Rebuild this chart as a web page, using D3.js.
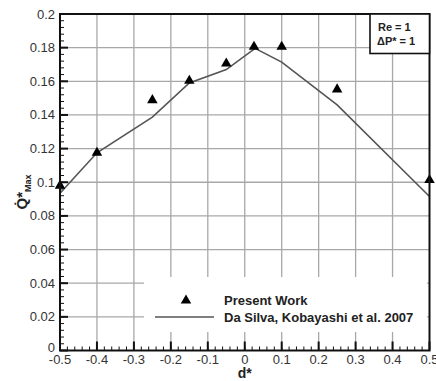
<!DOCTYPE html>
<html>
<head>
<meta charset="utf-8">
<script src="https://cdn.jsdelivr.net/npm/d3@7"></script>
<style>
  body { margin: 0; background: #fff; }
  svg { display: block; font-family: "Liberation Sans", Arial, sans-serif; }
</style>
</head>
<body>
<svg id="chart" width="436" height="381"></svg>
<script>
// Present work: maximum flow rate vs. position d*
const presentD = [-0.5, -0.4, -0.25, -0.15, -0.05, 0.025, 0.1, 0.25, 0.5];
const presentQ = [0.098, 0.1175, 0.1488, 0.1603, 0.1706, 0.1805, 0.1805, 0.1552, 0.1013];

// Reference curve (Da Silva, Kobayashi et al. 2007)
const refD = [-0.5, -0.4, -0.25, -0.15, -0.05, 0.028, 0.1, 0.25, 0.5];
const refQ = [0.0935, 0.1175, 0.1387, 0.1590, 0.1670, 0.1796, 0.1714, 0.1460, 0.0915];

const xTicks = [-0.5, -0.4, -0.3, -0.2, -0.1, 0, 0.1, 0.2, 0.3, 0.4, 0.5];
const yTicks = [0, 0.02, 0.04, 0.06, 0.08, 0.1, 0.12, 0.14, 0.16, 0.18, 0.2];

const svg = d3.select("#chart");
const pLeft = 60, pRight = 429.5, pTop = 14, pBottom = 350.5;

const x = d3.scaleLinear().domain([-0.5, 0.5]).range([pLeft, pRight]);
const y = d3.scaleLinear().domain([0, 0.2]).range([pBottom, pTop]);

// grid
const grid = svg.append("g").attr("stroke", "#a8a8a8").attr("stroke-width", 1.3);
grid.selectAll("line.v").data(xTicks.slice(1, -1)).join("line")
  .attr("x1", d => x(d)).attr("x2", d => x(d))
  .attr("y1", pTop).attr("y2", pBottom);
grid.selectAll("line.h").data(yTicks.slice(1, -1)).join("line")
  .attr("x1", pLeft).attr("x2", pRight)
  .attr("y1", d => y(d)).attr("y2", d => y(d));

// legend backdrop hides the grid behind it
svg.append("rect").attr("x", 144).attr("y", 277).attr("width", 283).attr("height", 55)
  .attr("fill", "#fff");

// minor & major ticks (inside the frame)
const tk = svg.append("g").attr("stroke", "#111");
tk.selectAll("line.xm").data(d3.range(-0.5, 0.5001, 0.02)).join("line")
  .attr("x1", d => x(d)).attr("x2", d => x(d))
  .attr("y1", pBottom).attr("y2", pBottom - 4).attr("stroke-width", 1);
tk.selectAll("line.xM").data(xTicks).join("line")
  .attr("x1", d => x(d)).attr("x2", d => x(d))
  .attr("y1", pBottom).attr("y2", pBottom - 9).attr("stroke-width", 2);
tk.selectAll("line.ym").data(d3.range(0, 0.2001, 0.004)).join("line")
  .attr("x1", pLeft).attr("x2", pLeft + 4)
  .attr("y1", d => y(d)).attr("y2", d => y(d)).attr("stroke-width", 1);
tk.selectAll("line.yM").data(yTicks).join("line")
  .attr("x1", pLeft).attr("x2", pLeft + 8)
  .attr("y1", d => y(d)).attr("y2", d => y(d)).attr("stroke-width", 2);

// reference curve
svg.append("path")
  .datum(refD.map((d, i) => [d, refQ[i]]))
  .attr("fill", "none").attr("stroke", "#555").attr("stroke-width", 1.6)
  .attr("d", d3.line().x(d => x(d[0])).y(d => y(d[1])));

// triangles for present work
const tri = d3.symbol().type(d3.symbolTriangle).size(48);
svg.selectAll("path.pt").data(presentD.map((d, i) => [d, presentQ[i]])).join("path")
  .attr("d", tri)
  .attr("transform", d => `translate(${x(d[0])},${y(d[1])})`)
  .attr("fill", "#000");

// frame
svg.append("rect").attr("x", pLeft).attr("y", pTop)
  .attr("width", pRight - pLeft).attr("height", pBottom - pTop)
  .attr("fill", "none").attr("stroke", "#111").attr("stroke-width", 2);

// tick labels
const fmt = d => (d === 0 ? "0" : String(+d.toFixed(2)));
svg.selectAll("text.xl").data(xTicks).join("text")
  .attr("x", d => x(d)).attr("y", 363.5)
  .attr("text-anchor", "middle").attr("font-size", 13).attr("fill", "#333")
  .text(fmt);
svg.selectAll("text.yl").data(yTicks).join("text")
  .attr("x", 55).attr("y", d => y(d) + (d === 0 ? 1 : 4.5))
  .attr("text-anchor", "end").attr("font-size", 13).attr("fill", "#333")
  .text(fmt);

// axis titles
svg.append("text").attr("x", x(0)).attr("y", 378)
  .attr("text-anchor", "middle").attr("font-size", 14).attr("font-weight", "bold")
  .attr("fill", "#222").text("d*");

const yt = svg.append("text")
  .attr("transform", "translate(27,192) rotate(-90)")
  .attr("text-anchor", "middle").attr("font-weight", "bold").attr("fill", "#222");
yt.append("tspan").attr("font-size", 15).text("Q\u0307*");
yt.append("tspan").attr("font-size", 9).attr("dy", 4).text("Max");

// info box
svg.append("rect").attr("x", 370).attr("y", 14).attr("width", 59.5).attr("height", 39.5)
  .attr("fill", "#fff").attr("stroke", "#111").attr("stroke-width", 1.6);
svg.append("text").attr("x", 378).attr("y", 31).attr("font-size", 11)
  .attr("font-weight", "bold").attr("fill", "#222").text("Re = 1");
svg.append("text").attr("x", 377).attr("y", 45).attr("font-size", 11)
  .attr("font-weight", "bold").attr("fill", "#222").text("\u0394P* = 1");

// legend
svg.append("path").attr("d", tri).attr("transform", "translate(186,300.5)").attr("fill", "#000");
svg.append("line").attr("x1", 155).attr("x2", 214).attr("y1", 317).attr("y2", 317)
  .attr("stroke", "#555").attr("stroke-width", 1.6);
svg.append("text").attr("x", 224).attr("y", 305).attr("font-size", 13)
  .attr("font-weight", "bold").attr("fill", "#222").text("Present Work");
svg.append("text").attr("x", 224).attr("y", 322).attr("font-size", 13)
  .attr("font-weight", "bold").attr("fill", "#222").text("Da Silva, Kobayashi et al. 2007");
</script>
</body>
</html>
